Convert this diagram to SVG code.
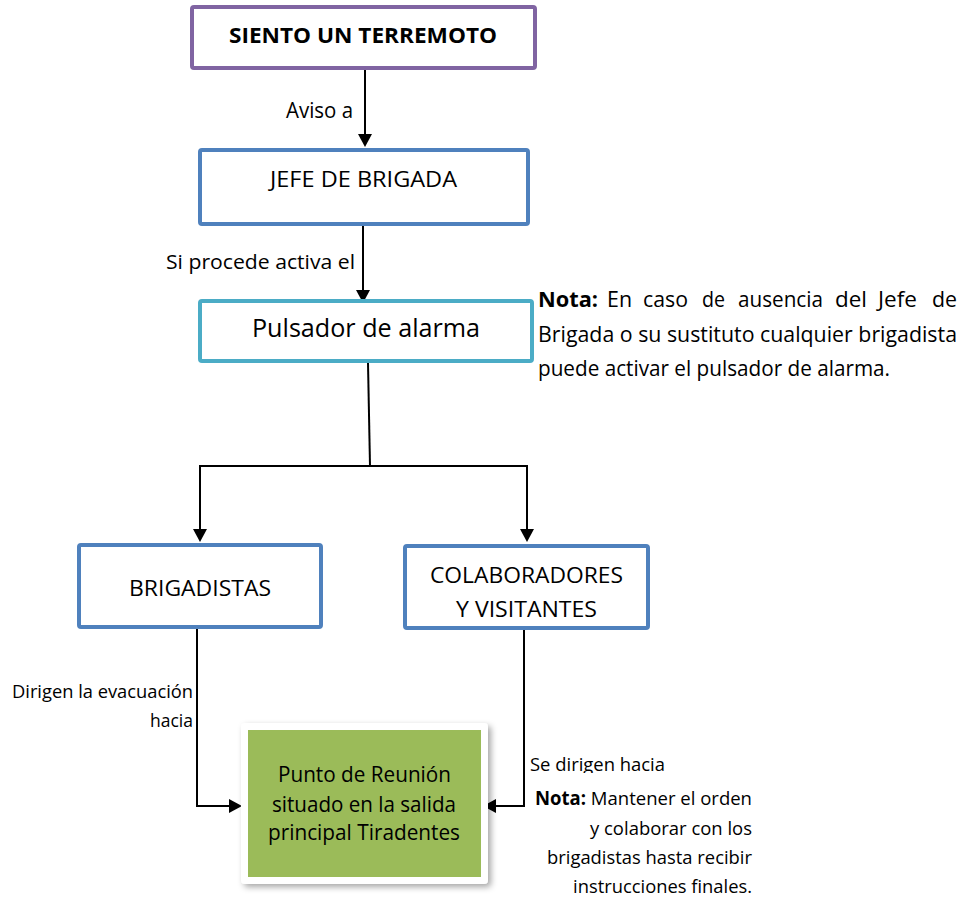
<svg xmlns="http://www.w3.org/2000/svg" width="964" height="900" viewBox="0 0 964 900">
  <style>
    text { font-family: "Open Sans", "Noto Sans", "Liberation Sans", sans-serif; fill: #000; }
    .box { fill: #fff; stroke-width: 4; }
    .purple { stroke: #8064A2; }
    .blue { stroke: #4F81BD; }
    .teal { stroke: #4BACC6; }
    .conn { fill: none; stroke: #000; stroke-width: 2; }
    .n { font-size: 21px; }
  </style>
  <defs>
    <marker id="arrow" viewBox="0 0 13 14" refX="9" refY="7" markerWidth="13" markerHeight="14" markerUnits="userSpaceOnUse" orient="auto">
      <path d="M0,0 L13,7 L0,14 z" fill="#000"/>
    </marker>
    <filter id="shadow" x="-10%" y="-10%" width="125%" height="125%">
      <feDropShadow dx="3" dy="3" stdDeviation="3" flood-color="#000" flood-opacity="0.35"/>
    </filter>
    <clipPath id="clipSe">
      <rect x="520" y="740" width="220" height="33"/>
    </clipPath>
  </defs>

  <g id="connectors">
    <path class="conn" d="M365,70 V143" marker-end="url(#arrow)"/>
    <path class="conn" d="M363,226 V299" marker-end="url(#arrow)"/>
    <path class="conn" d="M368,363 L370,466"/>
    <path class="conn" d="M199,466 H528"/>
    <path class="conn" d="M200,466 V538" marker-end="url(#arrow)"/>
    <path class="conn" d="M527,466 V538" marker-end="url(#arrow)"/>
    <path class="conn" d="M197,629 V806 H238" marker-end="url(#arrow)"/>
    <path class="conn" d="M524,630 V806 H487" marker-end="url(#arrow)"/>
    <text x="286" y="118" font-size="21" textLength="67" lengthAdjust="spacingAndGlyphs">Aviso a</text>
    <text x="166" y="269" font-size="20" textLength="189" lengthAdjust="spacingAndGlyphs">Si procede activa el</text>
    <text x="12" y="698" font-size="18" textLength="181" lengthAdjust="spacingAndGlyphs">Dirigen la evacuación</text>
    <text x="150" y="727" font-size="18" textLength="43" lengthAdjust="spacingAndGlyphs">hacia</text>
    <text x="530" y="771" font-size="18" textLength="135" lengthAdjust="spacingAndGlyphs" clip-path="url(#clipSe)">Se dirigen hacia</text>
  </g>

  <g id="node-terremoto">
    <rect class="box purple" x="192" y="7" width="343" height="61" rx="2"/>
    <text x="229" y="43" font-size="21" font-weight="bold" textLength="268" lengthAdjust="spacingAndGlyphs">SIENTO UN TERREMOTO</text>
  </g>

  <g id="node-jefe">
    <rect class="box blue" x="200" y="150" width="328" height="74" rx="2"/>
    <text x="270" y="187" font-size="22" textLength="187" lengthAdjust="spacingAndGlyphs">JEFE DE BRIGADA</text>
  </g>

  <g id="node-pulsador">
    <rect class="box teal" x="200" y="301" width="332" height="60" rx="2"/>
    <text x="252" y="337" font-size="25" textLength="228" lengthAdjust="spacingAndGlyphs">Pulsador de alarma</text>
  </g>

  <g id="note-top">
    <text class="n" x="538" y="307" font-weight="bold" textLength="60" lengthAdjust="spacingAndGlyphs">Nota:</text>
    <text class="n" x="607" y="307" textLength="25" lengthAdjust="spacingAndGlyphs">En</text>
    <text class="n" x="643" y="307" textLength="45" lengthAdjust="spacingAndGlyphs">caso</text>
    <text class="n" x="702" y="307" textLength="23" lengthAdjust="spacingAndGlyphs">de</text>
    <text class="n" x="738" y="307" textLength="85" lengthAdjust="spacingAndGlyphs">ausencia</text>
    <text class="n" x="835" y="307" textLength="32" lengthAdjust="spacingAndGlyphs">del</text>
    <text class="n" x="878" y="307" textLength="39" lengthAdjust="spacingAndGlyphs">Jefe</text>
    <text class="n" x="932" y="307" textLength="25" lengthAdjust="spacingAndGlyphs">de</text>
    <text class="n" x="538" y="342" textLength="419" lengthAdjust="spacingAndGlyphs">Brigada o su sustituto cualquier brigadista</text>
    <text class="n" x="538" y="376" textLength="352" lengthAdjust="spacingAndGlyphs">puede activar el pulsador de alarma.</text>
  </g>

  <g id="node-brigadistas">
    <rect class="box blue" x="79" y="545" width="242" height="82" rx="2"/>
    <text x="129" y="596" font-size="22" textLength="142" lengthAdjust="spacingAndGlyphs">BRIGADISTAS</text>
  </g>

  <g id="node-colaboradores">
    <rect class="box blue" x="405" y="546" width="243" height="82" rx="2"/>
    <text x="430" y="583" font-size="22" textLength="193" lengthAdjust="spacingAndGlyphs">COLABORADORES</text>
    <text x="456" y="617" font-size="22" textLength="141" lengthAdjust="spacingAndGlyphs">Y VISITANTES</text>
  </g>

  <g id="node-punto">
    <rect x="241" y="723" width="247" height="161" rx="4" fill="#fff" filter="url(#shadow)"/>
    <rect x="248" y="730" width="233" height="147" fill="#9BBB59"/>
    <text x="278" y="782" font-size="21" textLength="173" lengthAdjust="spacingAndGlyphs">Punto de Reunión</text>
    <text x="272" y="812" font-size="21" textLength="184" lengthAdjust="spacingAndGlyphs">situado en la salida</text>
    <text x="268" y="840" font-size="21" textLength="192" lengthAdjust="spacingAndGlyphs">principal Tiradentes</text>
  </g>

  <g id="note-bottom">
    <text x="535" y="805" font-size="19" textLength="217" lengthAdjust="spacingAndGlyphs"><tspan font-weight="bold">Nota:</tspan> Mantener el orden</text>
    <text x="590" y="835" font-size="19" textLength="162" lengthAdjust="spacingAndGlyphs">y colaborar con los</text>
    <text x="547" y="864" font-size="19" textLength="205" lengthAdjust="spacingAndGlyphs">brigadistas hasta recibir</text>
    <text x="573" y="893" font-size="19" textLength="179" lengthAdjust="spacingAndGlyphs">instrucciones finales.</text>
  </g>
</svg>
